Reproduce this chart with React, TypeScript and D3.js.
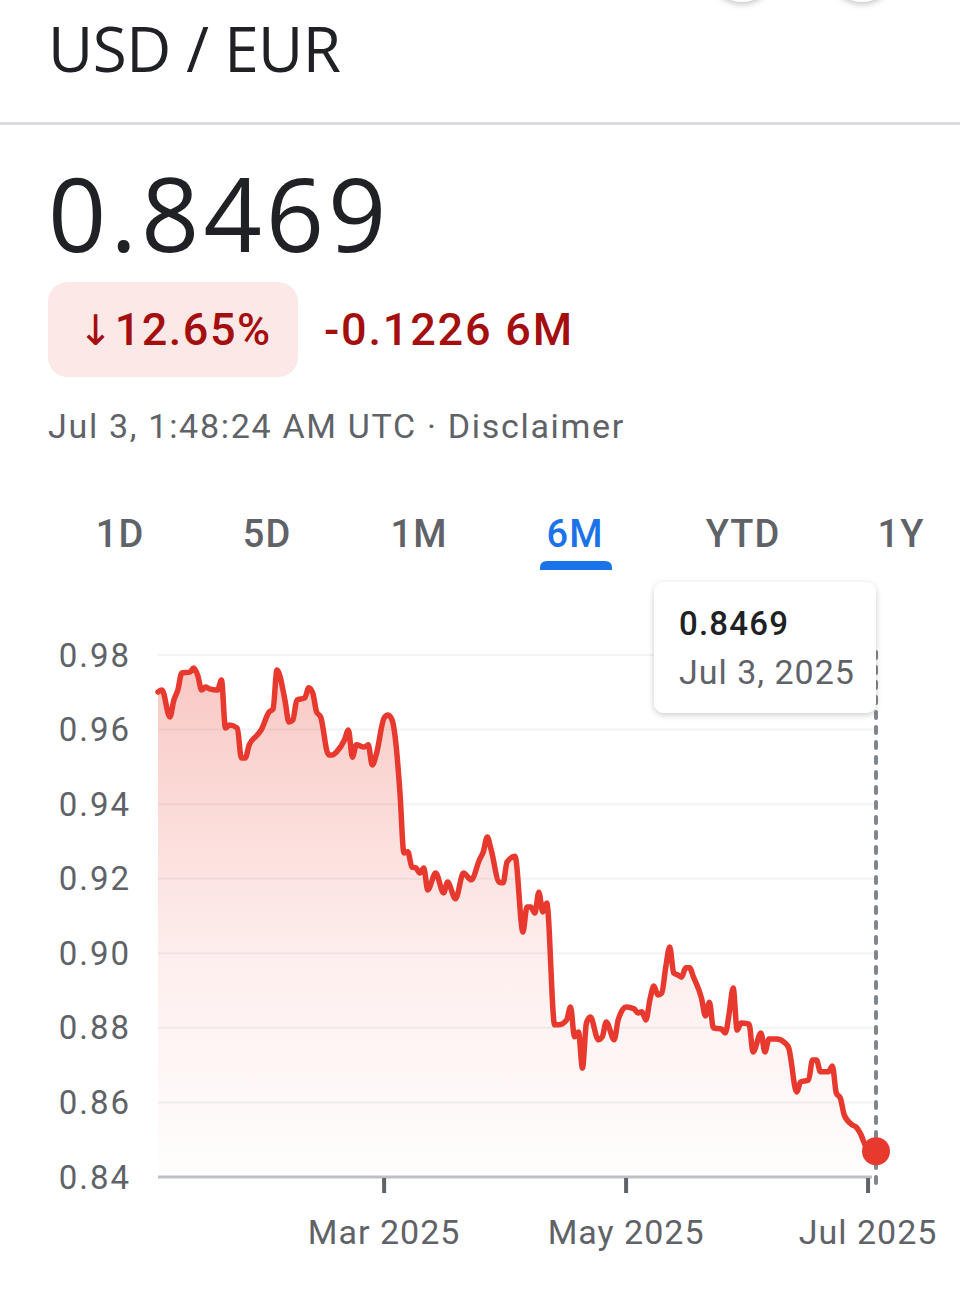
import React from "react";
import * as d3 from "d3";

const dates = [
  "2025-01-03","2025-01-04","2025-01-06","2025-01-07","2025-01-08","2025-01-09","2025-01-11","2025-01-12","2025-01-13","2025-01-14",
  "2025-01-15","2025-01-16","2025-01-18","2025-01-19","2025-01-20","2025-01-21","2025-01-23","2025-01-24","2025-01-25","2025-01-26",
  "2025-01-28","2025-01-29","2025-01-31","2025-02-01","2025-02-02","2025-02-04","2025-02-05","2025-02-06","2025-02-07","2025-02-09",
  "2025-02-10","2025-02-11","2025-02-12","2025-02-13","2025-02-15","2025-02-16","2025-02-17","2025-02-19","2025-02-20","2025-02-21",
  "2025-02-22","2025-02-24","2025-02-25","2025-02-26","2025-02-27","2025-03-01","2025-03-02","2025-03-03","2025-03-04","2025-03-05",
  "2025-03-06","2025-03-07","2025-03-08","2025-03-09","2025-03-10","2025-03-11","2025-03-12","2025-03-14","2025-03-16","2025-03-17",
  "2025-03-19","2025-03-21","2025-03-23","2025-03-25","2025-03-26","2025-03-27","2025-03-28","2025-03-30","2025-03-31","2025-04-01",
  "2025-04-03","2025-04-05","2025-04-06","2025-04-07","2025-04-08","2025-04-09","2025-04-10","2025-04-11","2025-04-13","2025-04-14",
  "2025-04-16","2025-04-17","2025-04-18","2025-04-19","2025-04-20","2025-04-21","2025-04-22","2025-04-24","2025-04-25","2025-04-26",
  "2025-04-28","2025-04-29","2025-05-01","2025-05-03","2025-05-04","2025-05-05","2025-05-06","2025-05-07","2025-05-08","2025-05-09",
  "2025-05-10","2025-05-11","2025-05-12","2025-05-13","2025-05-14","2025-05-15","2025-05-16","2025-05-17","2025-05-18","2025-05-20",
  "2025-05-21","2025-05-22","2025-05-23","2025-05-25","2025-05-26","2025-05-27","2025-05-28","2025-05-29","2025-05-30","2025-06-01",
  "2025-06-02","2025-06-04","2025-06-05","2025-06-06","2025-06-08","2025-06-10","2025-06-11","2025-06-13","2025-06-14","2025-06-16",
  "2025-06-17","2025-06-18","2025-06-19","2025-06-21","2025-06-22","2025-06-23","2025-06-24","2025-06-25","2025-06-27","2025-06-28",
  "2025-06-29","2025-07-01","2025-07-03",
];

const rates = [
  0.9701,0.9706,0.9634,0.9679,0.9706,0.9752,0.9754,0.9765,0.9746,0.9706,
  0.9714,0.9709,0.9706,0.9733,0.9604,0.9612,0.9604,0.9524,0.9524,0.9559,
  0.9585,0.9599,0.9647,0.9655,0.9760,0.9679,0.9620,0.9626,0.9679,0.9685,
  0.9712,0.9698,0.9647,0.9634,0.9532,0.9532,0.9540,0.9572,0.9599,0.9526,
  0.9559,0.9553,0.9559,0.9505,0.9532,0.9631,0.9639,0.9626,0.9560,0.9430,
  0.9269,0.9272,0.9231,0.9229,0.9215,0.9229,0.9170,0.9215,0.9162,0.9191,
  0.9146,0.9215,0.9197,0.9250,0.9272,0.9312,0.9277,0.9191,0.9189,0.9245,
  0.9260,0.9057,0.9124,0.9124,0.9108,0.9164,0.9111,0.9135,0.8808,0.8808,
  0.8821,0.8856,0.8776,0.8789,0.8692,0.8813,0.8829,0.8768,0.8776,0.8816,
  0.8768,0.8821,0.8856,0.8851,0.8840,0.8843,0.8821,0.8875,0.8912,0.8888,
  0.8894,0.8963,0.9017,0.8947,0.8942,0.8936,0.8961,0.8961,0.8936,0.8880,
  0.8832,0.8869,0.8800,0.8797,0.8786,0.8840,0.8907,0.8794,0.8813,0.8810,
  0.8735,0.8786,0.8735,0.8770,0.8770,0.8760,0.8746,0.8628,0.8655,0.8660,
  0.8714,0.8714,0.8682,0.8682,0.8698,0.8625,0.8612,0.8566,0.8540,0.8534,
  0.8518,0.8473,0.8469,
];

const yTicks = [0.98, 0.96, 0.94, 0.92, 0.90, 0.88, 0.86, 0.84];
const xTickDates = ["2025-03-01", "2025-05-01", "2025-07-01"];
const xTickLabels = ["Mar 2025", "May 2025", "Jul 2025"];
const rangeTabs = ["1D", "5D", "1M", "6M", "YTD", "1Y"];
const activeTab = "6M";

const pairTitle = "USD / EUR";
const currentRate = "0.8469";
const changePct = "12.65%";
const changeAbs = "-0.1226 6M";
const timestampText = "Jul 3, 1:48:24 AM UTC · Disclaimer";
const tooltipDate = "Jul 3, 2025";

const parse = d3.utcParse("%Y-%m-%d");

export default function App() {
  const W = 960, H = 1293;
  const data = dates.map((d, i) => ({ date: parse(d) as Date, value: rates[i] }));
  const x = d3.scaleUtc().domain([data[0].date, data[data.length - 1].date]).range([158, 876]);
  const y = d3.scaleLinear().domain([0.84, 0.98]).range([1177, 655]);

  const line = d3.line<any>().x(d => x(d.date)).y(d => y(d.value)).curve(d3.curveMonotoneX);
  const area = d3.area<any>().x(d => x(d.date)).y0(y(0.84)).y1(d => y(d.value)).curve(d3.curveMonotoneX);

  const last = data[data.length - 1];
  const lx = x(last.date), ly = y(last.value);

  const tabX = [120, 267, 419, 575, 743, 901];
  const gray = "#5f6368";
  const red = "#e8392e";
  const darkRed = "#a50e0e";

  return (
    <div style={{ position: "absolute", left: 0, top: 0 }}>
      <svg width={W} height={H} viewBox={`0 0 ${W} ${H}`} style={{ display: "block", background: "#fff" }}>
        <defs>
          <linearGradient id="fillGrad" gradientUnits="userSpaceOnUse" x1="0" y1={655} x2="0" y2={1177}>
            <stop offset="0" stopColor="#ea4335" stopOpacity={0.3} />
            <stop offset="0.6" stopColor="#ea4335" stopOpacity={0.08} />
            <stop offset="1" stopColor="#ea4335" stopOpacity={0.01} />
          </linearGradient>
          <filter id="shadow" x="-20%" y="-20%" width="140%" height="150%">
            <feDropShadow dx="0" dy="2" stdDeviation="3" floodColor="#000" floodOpacity="0.2" />
          </filter>
          <filter id="btnShadow" x="-50%" y="-50%" width="200%" height="200%">
            <feDropShadow dx="0" dy="2" stdDeviation="3" floodColor="#000" floodOpacity="0.25" />
          </filter>
        </defs>

        <circle cx={742} cy={-30} r={32} fill="#fff" filter="url(#btnShadow)" />
        <circle cx={862} cy={-30} r={32} fill="#fff" filter="url(#btnShadow)" />

        <text x={48} y={72} fontFamily="'Open Sans', sans-serif" fontSize={62} fill="#202124" letterSpacing={-0.5}>{pairTitle}</text>
        <rect x={0} y={122} width={W} height={3} fill="#dadce0" />

        <text x={48} y={252} fontFamily="'Open Sans', sans-serif" fontSize={102} fill="#202124" letterSpacing={4}>{currentRate}</text>

        <rect x={48} y={282} width={250} height={95} rx={20} fill="#fce8e6" />
        <text x={78} y={345} fontFamily="Roboto, sans-serif" fontWeight={500} fontSize={45} fill={darkRed} letterSpacing={1.5}>
          <tspan fontFamily="'DejaVu Sans', sans-serif" fontWeight={400} fontSize={42}>↓</tspan>{changePct}
        </text>
        <text x={324} y={345} fontFamily="Roboto, sans-serif" fontWeight={500} fontSize={45} fill={darkRed} letterSpacing={1.8}>{changeAbs}</text>

        <text x={48} y={438} fontFamily="Roboto, sans-serif" fontSize={34} fill={gray} letterSpacing={1.7}>{timestampText}</text>

        {rangeTabs.map((t, i) => (
          <text key={t} x={tabX[i]} y={547} textAnchor="middle" fontFamily="Roboto, sans-serif" fontWeight={500}
            fontSize={38} letterSpacing={1} fill={t === activeTab ? "#1a73e8" : gray}>{t}</text>
        ))}
        <path d={`M540,570 L540,568 Q540,561 547,561 L605,561 Q612,561 612,568 L612,570 Z`} fill="#1a73e8" />

        {yTicks.map(t => (
          <g key={t}>
            {t !== 0.84 && <line x1={158} x2={876} y1={y(t)} y2={y(t)} stroke="#f1f3f4" strokeWidth={2} />}
            <text x={131} y={y(t)} dy="0.35em" textAnchor="end" fontFamily="Roboto, sans-serif" fontSize={33} letterSpacing={2} fill={gray}>
              {t.toFixed(2)}
            </text>
          </g>
        ))}

        <path d={area(data) || ""} fill="url(#fillGrad)" />

        <line x1={158} x2={872} y1={y(0.84)} y2={y(0.84)} stroke="#bdc1c6" strokeWidth={3} />
        {xTickDates.map((d, i) => {
          const tx = x(parse(d) as Date);
          return (
            <g key={d}>
              <line x1={tx} x2={tx} y1={1178} y2={1193} stroke={gray} strokeWidth={4} />
              <text x={tx} y={1244} textAnchor="middle" fontFamily="Roboto, sans-serif" fontSize={34} letterSpacing={1} fill={gray}>{xTickLabels[i]}</text>
            </g>
          );
        })}

        <line x1={lx} x2={lx} y1={652} y2={1192} stroke="#80868b" strokeWidth={4} strokeDasharray="6 9" strokeLinecap="round" />

        <path d={line(data) || ""} fill="none" stroke={red} strokeWidth={5.5} strokeLinejoin="round" strokeLinecap="round" />
        <circle cx={lx} cy={ly} r={14} fill={red} />

        <g filter="url(#shadow)">
          <rect x={654} y={582} width={222} height={131} rx={10} fill="#fff" />
        </g>
        <text x={679} y={635} fontFamily="Roboto, sans-serif" fontWeight={500} fontSize={33} letterSpacing={1.2} fill="#202124">{currentRate}</text>
        <text x={679} y={684} fontFamily="Roboto, sans-serif" fontSize={34} letterSpacing={1} fill={gray}>{tooltipDate}</text>
      </svg>
    </div>
  );
}
